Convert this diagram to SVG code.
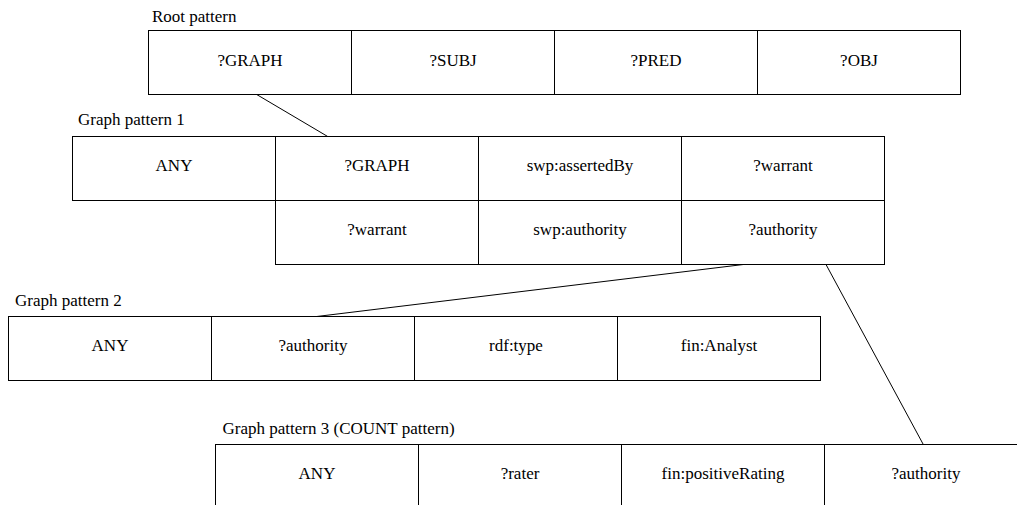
<svg xmlns="http://www.w3.org/2000/svg" width="1017" height="505" viewBox="0 0 1017 505" font-family="Liberation Serif, Times New Roman, serif" font-size="17">
<style>
.cell{fill:#fff;stroke:#000;stroke-width:1}
.conn{stroke:#000;stroke-width:1;fill:none}
</style>
<rect width="1017" height="505" fill="#fff"/>
<g id="connectors">
<line class="conn" x1="256.7" y1="94.5" x2="327.7" y2="136.5"/>
<line class="conn" x1="743.3" y1="264.5" x2="316.7" y2="316.5"/>
<line class="conn" x1="826" y1="264.5" x2="923.3" y2="444.5"/>
</g>
<g id="root-pattern">
<text font-family="Liberation Serif" x="152" y="22">Root pattern</text>
<rect class="cell" x="148.5" y="30.5" width="203" height="64"/>
<rect class="cell" x="351.5" y="30.5" width="203" height="64"/>
<rect class="cell" x="554.5" y="30.5" width="203" height="64"/>
<rect class="cell" x="757.5" y="30.5" width="203" height="64"/>
<g text-anchor="middle" font-family="Liberation Serif">
<text x="250" y="65.5">?GRAPH</text>
<text x="453" y="65.5">?SUBJ</text>
<text x="656" y="65.5">?PRED</text>
<text x="859" y="65.5">?OBJ</text>
</g>
</g>
<g id="graph-pattern-1">
<text font-family="Liberation Serif" x="78" y="124.5">Graph pattern 1</text>
<rect class="cell" x="72.5" y="136.5" width="203" height="64"/>
<rect class="cell" x="275.5" y="136.5" width="203" height="64"/>
<rect class="cell" x="478.5" y="136.5" width="203" height="64"/>
<rect class="cell" x="681.5" y="136.5" width="203" height="64"/>
<rect class="cell" x="275.5" y="200.5" width="203" height="64"/>
<rect class="cell" x="478.5" y="200.5" width="203" height="64"/>
<rect class="cell" x="681.5" y="200.5" width="203" height="64"/>
<g text-anchor="middle" font-family="Liberation Serif">
<text x="174" y="171">ANY</text>
<text x="377" y="171">?GRAPH</text>
<text x="580" y="171">swp:assertedBy</text>
<text x="783" y="171">?warrant</text>
<text x="377" y="235">?warrant</text>
<text x="580" y="235">swp:authority</text>
<text x="783" y="235">?authority</text>
</g>
</g>
<g id="graph-pattern-2">
<text font-family="Liberation Serif" x="15" y="306">Graph pattern 2</text>
<rect class="cell" x="8.5" y="316.5" width="203" height="64"/>
<rect class="cell" x="211.5" y="316.5" width="203" height="64"/>
<rect class="cell" x="414.5" y="316.5" width="203" height="64"/>
<rect class="cell" x="617.5" y="316.5" width="203" height="64"/>
<g text-anchor="middle" font-family="Liberation Serif">
<text x="110" y="351">ANY</text>
<text x="313" y="351">?authority</text>
<text x="516" y="351">rdf:type</text>
<text x="719" y="351">fin:Analyst</text>
</g>
</g>
<g id="graph-pattern-3">
<text font-family="Liberation Serif" x="222.6" y="434">Graph pattern 3 (COUNT pattern)</text>
<rect class="cell" x="215.5" y="444.5" width="203" height="64"/>
<rect class="cell" x="418.5" y="444.5" width="203" height="64"/>
<rect class="cell" x="621.5" y="444.5" width="203" height="64"/>
<rect class="cell" x="824.5" y="444.5" width="203" height="64"/>
<g text-anchor="middle" font-family="Liberation Serif">
<text x="317" y="479">ANY</text>
<text x="520" y="479">?rater</text>
<text x="723" y="479">fin:positiveRating</text>
<text x="926" y="479">?authority</text>
</g>
</g>
</svg>
